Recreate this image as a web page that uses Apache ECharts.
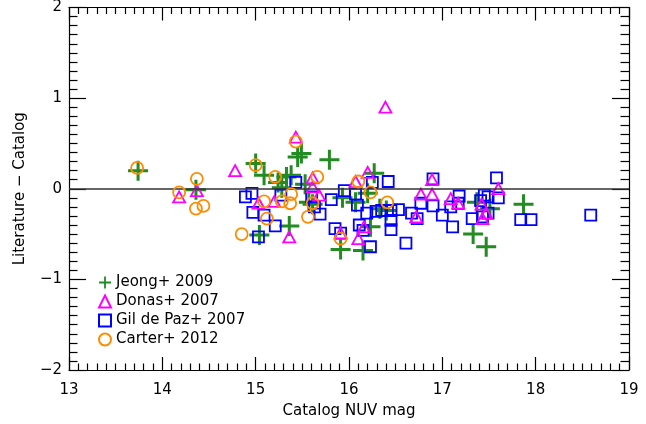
<!DOCTYPE html>
<html>
<head>
<meta charset="utf-8">
<script src="https://cdn.jsdelivr.net/npm/echarts@6/dist/echarts.min.js"></script>
<style>html,body{margin:0;padding:0;background:#fff}#c{width:646px;height:424px}</style>
</head>
<body>
<div id="c"></div>
<script>
var seriesNames = ['Jeong+ 2009', 'Donas+ 2007', 'Gil de Paz+ 2007', 'Carter+ 2012'];
var xTicks = [13, 14, 15, 16, 17, 18, 19];
var yTicks = [-2, -1, 0, 1, 2];

var jeong = [[13.74,0.20],[14.36,-0.01],[15.00,0.28],[15.09,0.15],[15.24,0.07],[15.28,0.01],[15.33,0.13],[15.38,0.15],[15.45,0.35],[15.49,0.39],[15.36,-0.41],[15.04,-0.51],[15.79,0.32],[15.53,0.05],[15.57,-0.15],[15.61,-0.17],[15.91,-0.67],[15.93,-0.10],[16.07,-0.15],[16.15,-0.68],[16.23,-0.42],[16.27,0.17],[16.20,-0.05],[16.33,-0.22],[16.40,-0.24],[17.33,-0.50],[17.47,-0.64],[17.37,-0.15],[17.51,-0.22],[17.87,-0.17]];
var donas = [[14.18,-0.09],[14.37,-0.02],[14.78,0.20],[15.03,-0.16],[15.20,-0.14],[15.36,-0.53],[15.43,0.57],[15.61,0.12],[15.61,0.02],[15.68,-0.07],[15.91,-0.49],[16.07,0.08],[16.10,-0.55],[16.16,-0.42],[16.20,0.18],[16.39,0.90],[16.72,-0.31],[16.77,-0.06],[16.89,0.10],[16.89,-0.06],[17.09,-0.11],[17.17,-0.16],[17.42,-0.17],[17.43,-0.33],[17.47,-0.27],[17.60,0.00]];
var gildepaz = [[14.89,-0.09],[14.96,-0.05],[14.97,-0.26],[15.03,-0.53],[15.09,-0.29],[15.21,-0.41],[15.27,-0.07],[15.43,0.07],[15.60,-0.09],[15.63,-0.20],[15.69,-0.28],[15.81,-0.12],[15.85,-0.44],[15.91,-0.49],[15.95,-0.02],[16.07,-0.06],[16.09,-0.18],[16.11,-0.40],[16.15,-0.46],[16.23,-0.64],[16.25,0.07],[16.19,-0.27],[16.29,-0.25],[16.35,-0.24],[16.42,0.08],[16.45,-0.24],[16.45,-0.35],[16.45,-0.45],[16.53,-0.23],[16.61,-0.60],[16.67,-0.27],[16.73,-0.33],[16.77,-0.16],[16.90,0.11],[16.90,-0.19],[17.00,-0.29],[17.11,-0.42],[17.09,-0.20],[17.18,-0.08],[17.17,-0.16],[17.32,-0.33],[17.43,-0.31],[17.41,-0.13],[17.45,-0.07],[17.49,-0.09],[17.49,-0.27],[17.58,0.12],[17.60,-0.10],[17.84,-0.34],[17.95,-0.34],[18.59,-0.29]];
var carter = [[13.73,0.23],[14.18,-0.04],[14.37,0.11],[14.36,-0.22],[14.44,-0.19],[14.85,-0.50],[15.00,0.26],[15.09,-0.14],[15.12,-0.33],[15.21,0.13],[15.28,-0.14],[15.37,-0.16],[15.38,-0.06],[15.43,0.52],[15.56,-0.31],[15.61,-0.16],[15.66,0.13],[15.91,-0.55],[16.10,0.08],[16.23,-0.04],[16.41,-0.15]];

var plusPath = 'path://M-10,-1.5L-1.5,-1.5L-1.5,-10L1.5,-10L1.5,-1.5L10,-1.5L10,1.5L1.5,1.5L1.5,10L-1.5,10L-1.5,1.5L-10,1.5Z';
var font = 'DejaVu Sans';

function minusFmt(v){ return v < 0 ? '\u2212' + (-v) : String(v); }

var chart = echarts.init(document.getElementById('c'), null, {renderer: 'canvas'});
var axisCommon = {
  type: 'value',
  axisLine: {show: true, onZero: false, lineStyle: {color: '#000', width: 1.2}},
  splitLine: {show: false},
  minorSplitLine: {show: false}
};
chart.setOption({
  animation: false,
  backgroundColor: '#fff',
  grid: {left: 69, right: 17, top: 6, bottom: 53, containLabel: false},
  xAxis: [
    Object.assign({}, axisCommon, {
      min: xTicks[0], max: xTicks[xTicks.length-1], interval: 1, position: 'bottom',
      axisTick: {show: true, inside: true, length: 13, lineStyle: {color: '#000', width: 1.2}},
      minorTick: {show: true, splitNumber: 10, length: 6.5, lineStyle: {color: '#000', width: 1.2}},
      axisLabel: {show: true, margin: 13, color: '#000', fontFamily: font, fontSize: 15},
      name: 'Catalog NUV mag', nameLocation: 'middle', nameGap: 34,
      nameTextStyle: {color: '#000', fontFamily: font, fontSize: 15}
    }),
    Object.assign({}, axisCommon, {
      min: xTicks[0], max: xTicks[xTicks.length-1], interval: 1, position: 'top',
      axisTick: {show: true, inside: true, length: 13, lineStyle: {color: '#000', width: 1.2}},
      minorTick: {show: true, splitNumber: 10, length: 6.5, lineStyle: {color: '#000', width: 1.2}},
      axisLabel: {show: false}
    })
  ],
  yAxis: [
    Object.assign({}, axisCommon, {
      min: yTicks[0], max: yTicks[yTicks.length-1], interval: 1, position: 'left',
      axisTick: {show: true, inside: true, length: 17, lineStyle: {color: '#000', width: 1.2}},
      minorTick: {show: true, splitNumber: 10, length: 8.5, lineStyle: {color: '#000', width: 1.2}},
      axisLabel: {show: true, margin: 7, color: '#000', fontFamily: font, fontSize: 15, formatter: minusFmt},
      name: 'Literature \u2212 Catalog', nameLocation: 'middle', nameGap: 41,
      nameTextStyle: {color: '#000', fontFamily: font, fontSize: 15}
    }),
    Object.assign({}, axisCommon, {
      min: yTicks[0], max: yTicks[yTicks.length-1], interval: 1, position: 'right',
      axisTick: {show: true, inside: true, length: 17, lineStyle: {color: '#000', width: 1.2}},
      minorTick: {show: true, splitNumber: 10, length: 8.5, lineStyle: {color: '#000', width: 1.2}},
      axisLabel: {show: false}
    })
  ],
  legend: {
    orient: 'vertical', left: 93, top: 270, itemWidth: 12, itemHeight: 12, itemGap: 4,
    selectedMode: false,
    textStyle: {color: '#000', fontFamily: font, fontSize: 15, lineHeight: 15, padding: [0,0,0,0]},
    data: seriesNames.map(function(n){ return {name: n}; })
  },
  series: [
    {
      name: seriesNames[0], type: 'scatter', data: jeong, symbol: plusPath, symbolSize: 20,
      itemStyle: {color: '#228B22', opacity: 1},
      markLine: {
        silent: true, symbol: 'none', label: {show: false},
        lineStyle: {color: '#333', width: 1.5, type: 'solid'},
        data: [{yAxis: 0}]
      },
      z: 2
    },
    {
      name: seriesNames[2], type: 'scatter', data: gildepaz, symbol: 'rect', symbolSize: 11,
      itemStyle: {color: 'rgba(0,0,0,0)', borderColor: '#0000FF', borderWidth: 1.8, opacity: 1},
      z: 3
    },
    {
      name: seriesNames[1], type: 'scatter', data: donas, symbol: 'triangle', symbolSize: [12, 11],
      itemStyle: {color: 'rgba(0,0,0,0)', borderColor: '#FF00FF', borderWidth: 1.8, opacity: 1},
      z: 4
    },
    {
      name: seriesNames[3], type: 'scatter', data: carter, symbol: 'circle', symbolSize: 12,
      itemStyle: {color: 'rgba(0,0,0,0)', borderColor: '#FF8C00', borderWidth: 1.8, opacity: 1},
      z: 5
    }
  ]
});
</script>
</body>
</html>
